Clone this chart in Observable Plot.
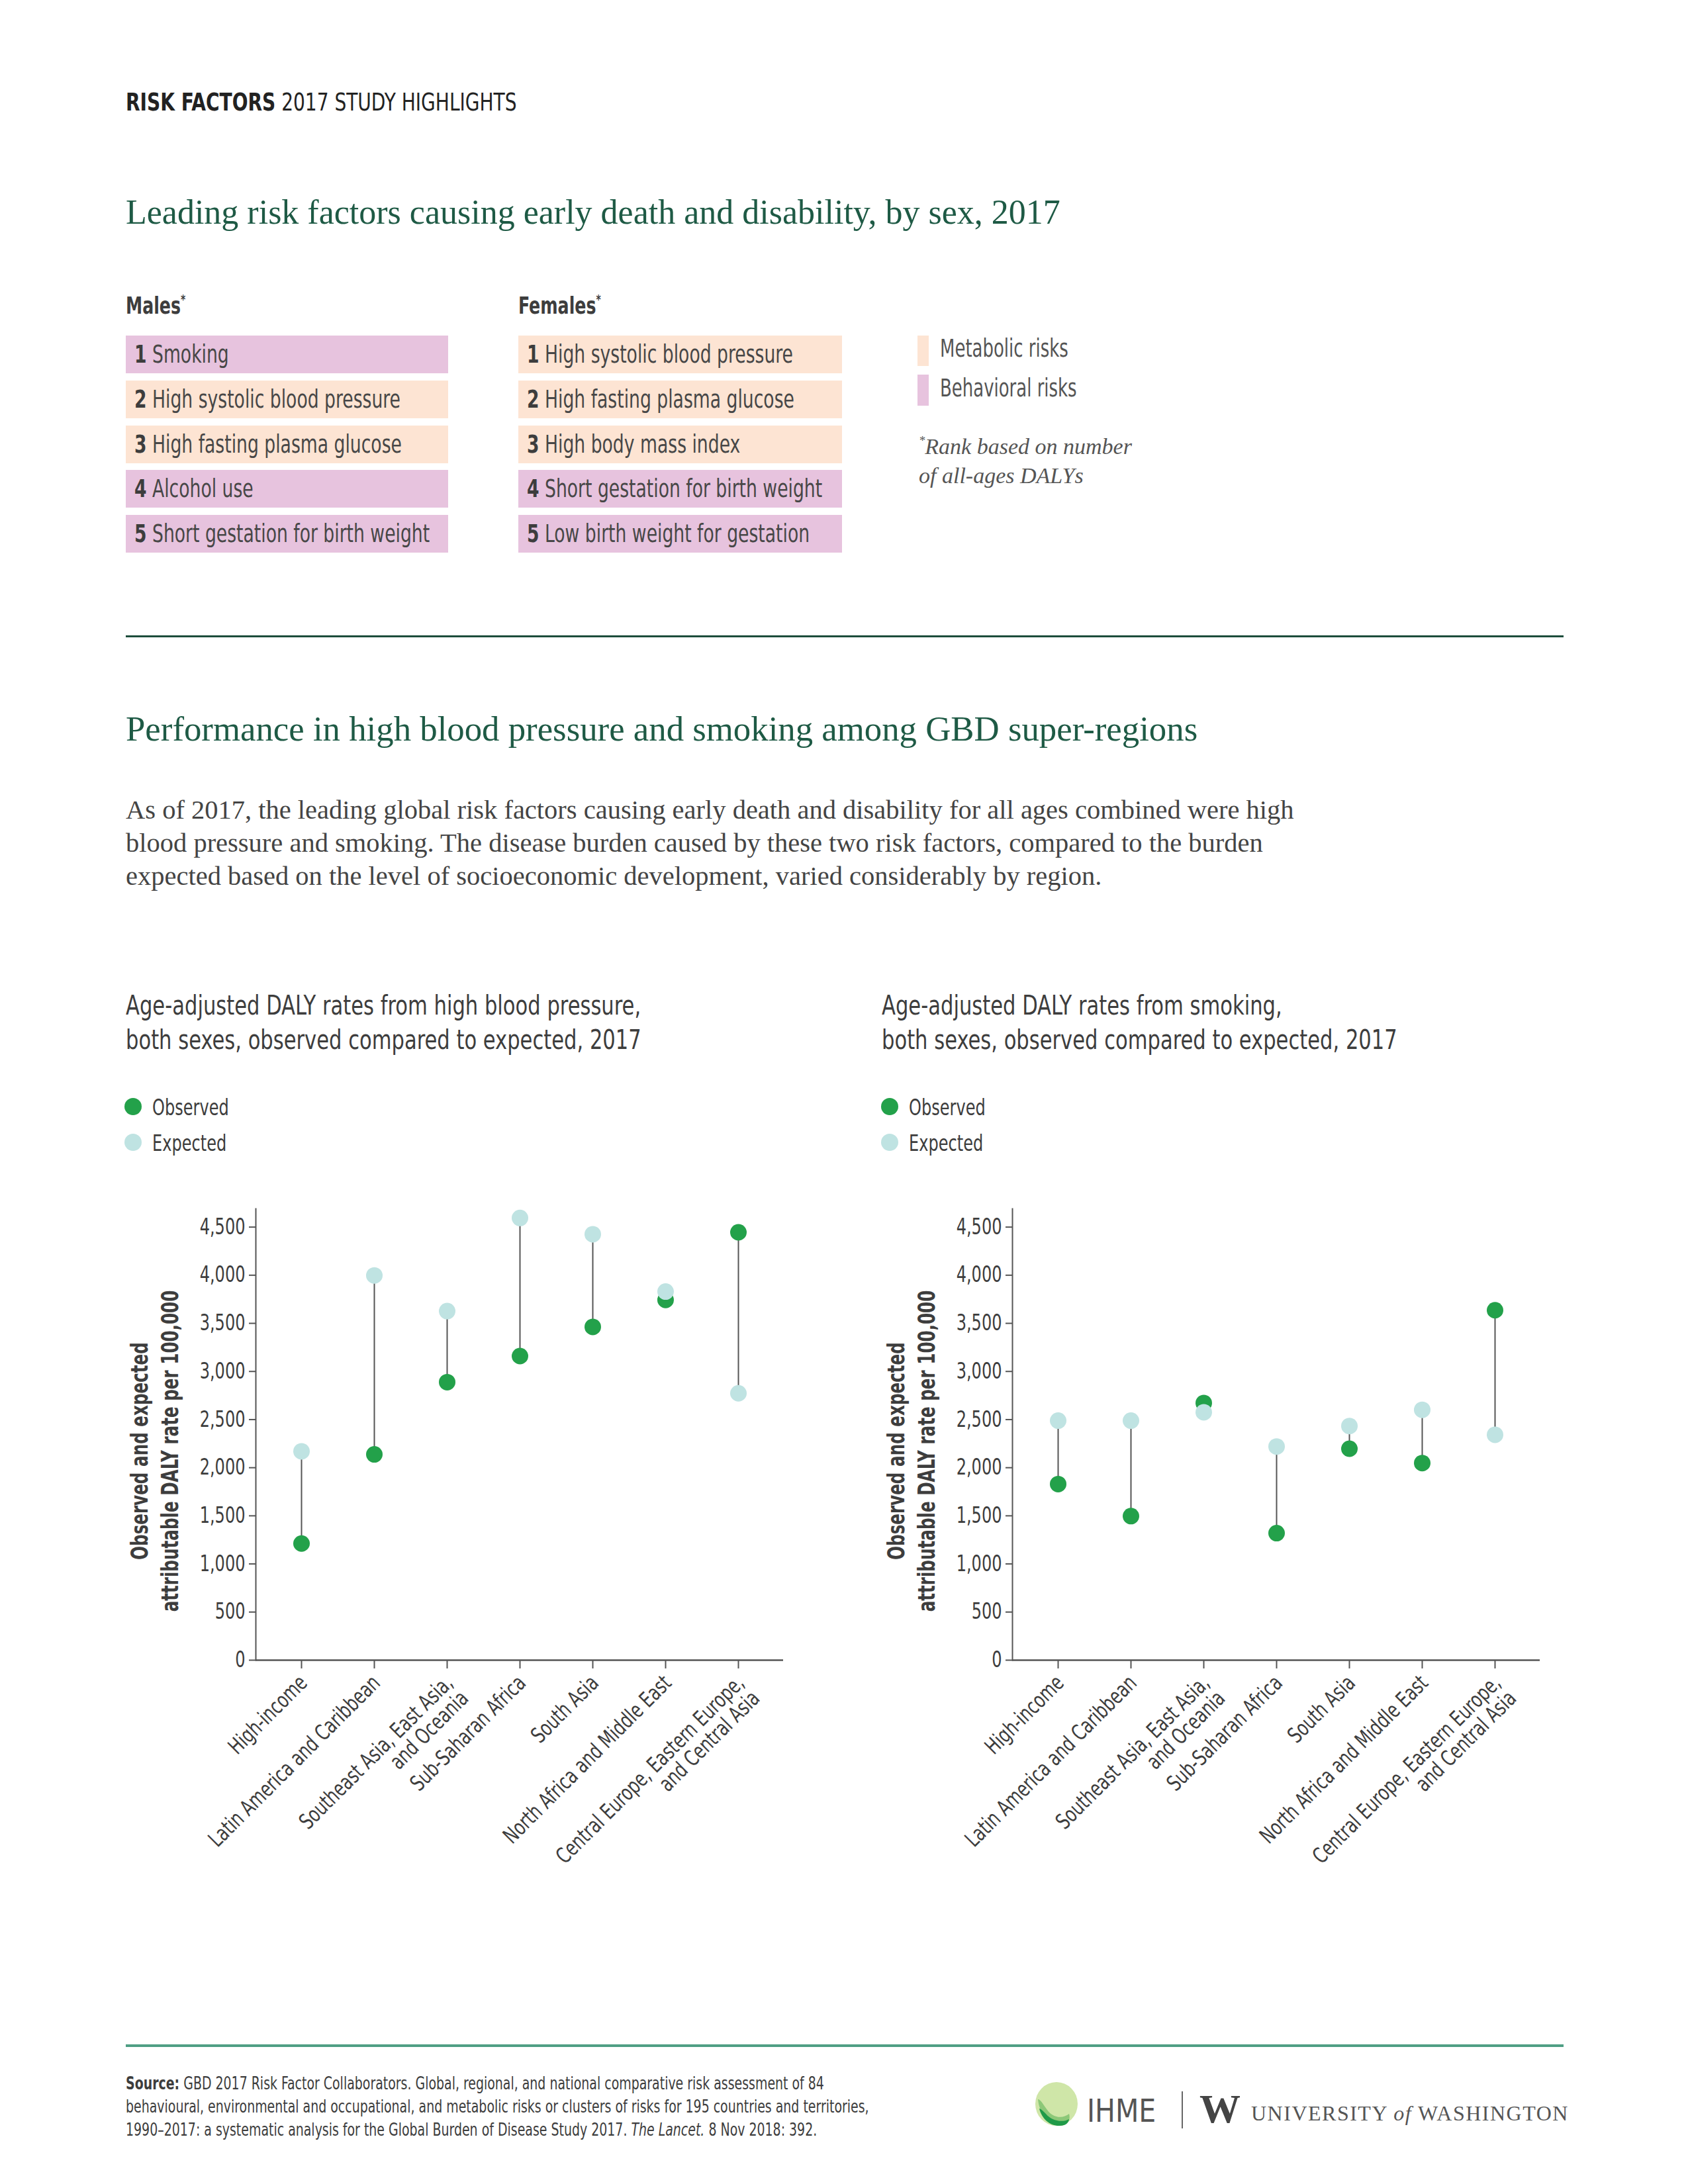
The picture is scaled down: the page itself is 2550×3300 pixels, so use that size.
<!DOCTYPE html>
<html>
<head>
<meta charset="utf-8">
<script src="https://cdn.jsdelivr.net/npm/d3@7"></script>
<script src="https://cdn.jsdelivr.net/npm/@observablehq/plot@0.6"></script>
<style>
html, body { margin: 0; padding: 0; background: #fff; }
#page { position: relative; width: 2550px; height: 3300px; overflow: hidden; background: #fff; color: #3d3d3d; }
.abs { position: absolute; white-space: nowrap; }
.narrow { font-family: "DejaVu Sans Condensed", "Liberation Sans Narrow", "Roboto", sans-serif; }
.serif { font-family: "Liberation Serif", "DejaVu Serif", serif; }
.green { color: #1e5a45; }
.sx { transform-origin: 0 0; }
.box { position: absolute; height: 57px; line-height: 57px; font-size: 37px; padding-left: 13px; box-sizing: border-box; color: #474747; white-space: nowrap; }
.box span { display: inline-block; transform: scaleX(0.8); transform-origin: 0 50%; }
.box b { color: #3d3d3d; }
.metabolic { background: #fde4d3; }
.behavioral { background: #e7c3de; }
.rule { position: absolute; }
.dot { position: absolute; width: 26px; height: 26px; border-radius: 50%; }
sup { font-size: 55%; vertical-align: 0.75em; line-height: 0; }
</style>
</head>
<body>
<div id="page">
  <div class="abs narrow sx" style="left:190px; top:135px; font-size:38px; line-height:1; color:#222; transform:scaleX(0.82);"><b>RISK FACTORS</b> 2017 STUDY HIGHLIGHTS</div>

  <div class="abs serif green" style="left:190px; top:295px; font-size:52px; line-height:1;">Leading risk factors causing early death and disability, by sex, 2017</div>

  <div class="abs narrow sx" style="left:190px; top:444px; font-size:36px; line-height:1; font-weight:bold; color:#3d3d3d; transform:scaleX(0.78);">Males<sup>*</sup></div>
  <div class="abs narrow sx" style="left:783px; top:444px; font-size:36px; line-height:1; font-weight:bold; color:#3d3d3d; transform:scaleX(0.78);">Females<sup>*</sup></div>
  <div id="males"></div>
  <div id="females"></div>

  <div class="abs metabolic" style="left:1386px; top:507px; width:17px; height:46px;"></div>
  <div class="abs behavioral" style="left:1386px; top:566px; width:17px; height:47px;"></div>
  <div class="abs narrow sx" style="left:1420px; top:508px; font-size:37px; line-height:1; color:#555; transform:scaleX(0.78);">Metabolic risks</div>
  <div class="abs narrow sx" style="left:1420px; top:568px; font-size:37px; line-height:1; color:#555; transform:scaleX(0.78);">Behavioral risks</div>
  <div class="abs serif" style="left:1388px; top:653px; font-size:34px; line-height:43.5px; font-style:italic; color:#555;"><sup>*</sup>Rank based on number<br>of all-ages DALYs</div>

  <div class="rule" style="left:190px; top:960px; width:2172px; height:2.5px; background:#1d4d3c;"></div>

  <div class="abs serif green" style="left:190px; top:1075px; font-size:52.8px; line-height:1;">Performance in high blood pressure and smoking among GBD super-regions</div>

  <div class="abs serif" style="left:190px; top:1199px; font-size:40.5px; line-height:50px; color:#444;">As of 2017, the leading global risk factors causing early death and disability for all ages combined were high<br>blood pressure and smoking. The disease burden caused by these two risk factors, compared to the burden<br>expected based on the level of socioeconomic development, varied considerably by region.</div>

  <div class="abs narrow sx" style="left:190px; top:1493px; font-size:40px; line-height:52px; color:#3d3d3d; transform:scaleX(0.85);">Age-adjusted DALY rates from high blood pressure,<br>both sexes, observed compared to expected, 2017</div>
  <div class="abs narrow sx" style="left:1332px; top:1493px; font-size:40px; line-height:52px; color:#3d3d3d; transform:scaleX(0.85);">Age-adjusted DALY rates from smoking,<br>both sexes, observed compared to expected, 2017</div>

  <div class="dot" style="left:188px; top:1659px; background:#23a14a;"></div>
  <div class="dot" style="left:188px; top:1713px; background:#bfe3e2;"></div>
  <div class="abs narrow sx" style="left:230px; top:1657px; font-size:33px; line-height:1; transform:scaleX(0.81);">Observed</div>
  <div class="abs narrow sx" style="left:230px; top:1711px; font-size:33px; line-height:1; transform:scaleX(0.81);">Expected</div>
  <div class="dot" style="left:1331px; top:1659px; background:#23a14a;"></div>
  <div class="dot" style="left:1331px; top:1713px; background:#bfe3e2;"></div>
  <div class="abs narrow sx" style="left:1373px; top:1657px; font-size:33px; line-height:1; transform:scaleX(0.81);">Observed</div>
  <div class="abs narrow sx" style="left:1373px; top:1711px; font-size:33px; line-height:1; transform:scaleX(0.81);">Expected</div>

  <div id="chartBP" class="abs" style="left:150px; top:1780px;"></div>
  <div id="chartSM" class="abs" style="left:1293px; top:1780px;"></div>

  <div class="rule" style="left:190px; top:3089px; width:2172px; height:3.5px; background:#4f9f84;"></div>

  <div class="abs narrow sx" style="left:190px; top:3131px; font-size:26px; line-height:35px; color:#3d3d3d; transform:scaleX(0.81);"><b>Source:</b> GBD 2017 Risk Factor Collaborators. Global, regional, and national comparative risk assessment of 84<br>behavioural, environmental and occupational, and metabolic risks or clusters of risks for 195 countries and territories,<br>1990–2017: a systematic analysis for the Global Burden of Disease Study 2017. <i>The Lancet.</i> 8 Nov 2018: 392.</div>

  <svg class="abs" style="left:1560px; top:3142px;" width="80" height="76" viewBox="0 0 80 76">
    <ellipse cx="36" cy="37" rx="32" ry="33" fill="#cfe6a8"/>
    <path d="M8 30 C 10 50, 22 68, 40 70 C 52 70, 58 62, 55 52 C 45 60, 30 58, 22 46 C 16 38, 12 30, 8 30 Z" fill="#8cc878"/>
    <path d="M10 44 C 14 60, 26 70, 40 70 C 50 70, 54 66, 55 60 C 44 66, 28 62, 20 52 C 16 48, 12 44, 10 44 Z" fill="#1f9a48"/>
  </svg>
  <div class="abs narrow sx" style="left:1642px; top:3165px; font-size:48px; line-height:1; color:#555; transform:scaleX(0.95);">IHME</div>
  <div class="rule" style="left:1785px; top:3160px; width:2px; height:56px; background:#666;"></div>
  <div class="abs serif" style="left:1812px; top:3155px; font-size:62px; line-height:1; font-weight:bold; color:#444;">W</div>
  <div class="abs serif" style="left:1890px; top:3177px; font-size:32px; line-height:1; letter-spacing:1.5px; color:#555;">UNIVERSITY <i>of</i> WASHINGTON</div>
</div>

<script>
// ---------- Data ----------
const malesRisks = ["Smoking", "High systolic blood pressure", "High fasting plasma glucose", "Alcohol use", "Short gestation for birth weight"];
const malesTypes = ["behavioral", "metabolic", "metabolic", "behavioral", "behavioral"];
const femalesRisks = ["High systolic blood pressure", "High fasting plasma glucose", "High body mass index", "Short gestation for birth weight", "Low birth weight for gestation"];
const femalesTypes = ["metabolic", "metabolic", "metabolic", "behavioral", "behavioral"];

const regions = [
  "High-income",
  "Latin America and Caribbean",
  "Southeast Asia, East Asia,\nand Oceania",
  "Sub-Saharan Africa",
  "South Asia",
  "North Africa and Middle East",
  "Central Europe, Eastern Europe,\nand Central Asia"
];
const bpObserved = [1212, 2138, 2889, 3160, 3463, 3743, 4446];
const bpExpected = [2170, 3998, 3627, 4595, 4426, 3830, 2773];
const smObserved = [1830, 1497, 2672, 1320, 2197, 2048, 3636];
const smExpected = [2489, 2489, 2576, 2220, 2433, 2602, 2342];
const yTicks = [0, 500, 1000, 1500, 2000, 2500, 3000, 3500, 4000, 4500];
const yMax = 4690;
const yTitle = "Observed and expected\nattributable DALY rate per 100,000";

// ---------- Ranked lists ----------
function buildList(id, left, width, risks, types) {
  const el = document.getElementById(id);
  risks.forEach((r, i) => {
    const d = document.createElement("div");
    d.className = "box narrow " + types[i];
    d.style.left = left + "px";
    d.style.width = width + "px";
    d.style.top = (507 + i * 67.8) + "px";
    d.innerHTML = "<span><b>" + (i + 1) + "</b> " + r + "</span>";
    el.appendChild(d);
  });
}
buildList("males", 190, 487, malesRisks, malesTypes);
buildList("females", 783, 489, femalesRisks, femalesTypes);

// ---------- Charts ----------
const NARROW = '"DejaVu Sans Condensed", "Liberation Sans Narrow", "Roboto", sans-serif';
const OBS = "#23a14a", EXP = "#bfe3e2", AXIS = "#555", TEXT = "#3d3d3d";

function condense(svg) {
  // horizontal condensing of every label along its own reading direction
  d3.select(svg).selectAll("text").each(function() {
    const bold = this.getAttribute("font-weight") === "bold" || (this.parentNode && this.parentNode.getAttribute && this.parentNode.getAttribute("font-weight") === "bold");
    const k = bold ? 0.76 : 0.81;
    const t = this.getAttribute("transform") || "";
    this.setAttribute("transform", (t + ` scale(${k},1)`).trim());
  });
  return svg;
}

function chart(observed, expected) {
  const rows = regions.map((r, i) => ({region: r, observed: observed[i], expected: expected[i]}));
  const svg = Plot.plot({
    width: 1100,
    height: 1078,
    marginLeft: 236,
    marginRight: 67,
    marginTop: 46,
    marginBottom: 350,
    style: {fontFamily: NARROW, fontSize: "33px", color: TEXT, background: "transparent", overflow: "visible"},
    x: {type: "point", domain: regions, padding: 0, insetLeft: 66, insetRight: 66, label: null},
    y: {domain: [0, yMax], label: null},
    marks: [
      Plot.frame({anchor: "left", stroke: AXIS, strokeWidth: 2}),
      Plot.axisY({ticks: yTicks, tickFormat: d3.format(","), tickSize: 10, tickPadding: 6, stroke: AXIS, strokeWidth: 2, fontSize: 33, fill: TEXT, label: null}),
      Plot.axisX({tickSize: 13, tickFormat: () => "", stroke: AXIS, strokeWidth: 2, label: null}),
      Plot.ruleY([0], {stroke: AXIS, strokeWidth: 2.5}),
      Plot.text(regions, {x: d => d, text: d => d, frameAnchor: "bottom", rotate: -45, textAnchor: "end", lineAnchor: "top", dx: -6, dy: 20, fontSize: 33, fill: TEXT}),
      Plot.text([yTitle], {text: d => d, frameAnchor: "left", rotate: -90, textAnchor: "middle", lineAnchor: "middle", lineHeight: 1.28, dx: -155, dy: 25, fontSize: 36, fontWeight: "bold", fill: TEXT}),
      Plot.ruleX(rows, {x: "region", y1: "observed", y2: "expected", stroke: AXIS, strokeWidth: 2}),
      Plot.dot(rows, {x: "region", y: "observed", r: 12.5, fill: OBS, stroke: null}),
      Plot.dot(rows, {x: "region", y: "expected", r: 12.5, fill: EXP, stroke: null})
    ]
  });
  return condense(svg);
}

document.getElementById("chartBP").appendChild(chart(bpObserved, bpExpected));
document.getElementById("chartSM").appendChild(chart(smObserved, smExpected));
</script>
</body>
</html>
